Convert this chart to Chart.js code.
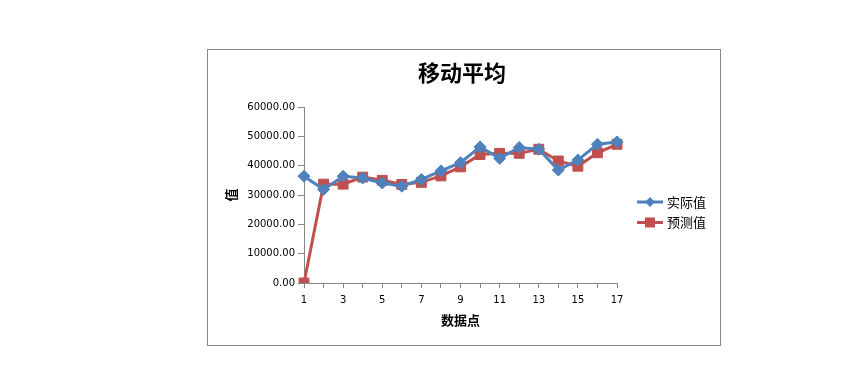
<!DOCTYPE html>
<html>
<head>
<meta charset="utf-8">
<script src="https://cdn.jsdelivr.net/npm/chart.js@4.4.1/dist/chart.umd.min.js"></script>
<style>
  body { margin: 0; background: #fff; }
  #box {
    position: absolute; left: 207px; top: 49px;
    width: 512px; height: 295px;
    border: 1px solid #868686;
  }
</style>
</head>
<body>
<div id="box"><canvas id="chart" width="512" height="295"></canvas></div>
<script>
var chartTitle = '移动平均';
var points = ['1', '2', '3', '4', '5', '6', '7', '8', '9', '10', '11', '12', '13', '14', '15', '16', '17'];
var actual = [36400, 31900, 36400, 35800, 34100, 33000, 35300, 38200, 41000, 46400, 42500, 46200, 45600, 38500, 41900, 47300, 48100];
var forecast = [0, 33700, 33700, 36100, 35000, 33600, 34300, 36500, 39600, 43800, 44200, 44200, 45600, 41600, 39800, 44400, 47300];
var seriesNames = ['实际值', '预测值'];
var yTicks = [0, 10000, 20000, 30000, 40000, 50000, 60000];

var blue = '#4F81BD';
var red = '#C0504D';
var axisGray = '#868686';
var cjk = '"Noto Sans CJK SC", "DejaVu Sans", sans-serif';

// title and right-hand legend drawn by hand
var extras = {
    id: 'extras',
    afterDraw: function (chart) {
        var ctx = chart.ctx;
        ctx.save();
        ctx.fillStyle = '#000';
        ctx.font = 'bold 22px ' + cjk;
        ctx.textAlign = 'center';
        ctx.textBaseline = 'middle';
        ctx.fillText(chartTitle, 254, 23);

        var items = [
            { name: seriesNames[0], color: blue, shape: 'diamond' },
            { name: seriesNames[1], color: red, shape: 'square' }
        ];
        var x0 = chart.chartArea.right + 20;
        items.forEach(function (it, i) {
            var y = 152 + i * 20.5;
            ctx.strokeStyle = it.color;
            ctx.lineWidth = 3;
            ctx.beginPath();
            ctx.moveTo(x0, y);
            ctx.lineTo(x0 + 26, y);
            ctx.stroke();
            ctx.fillStyle = it.color;
            var cx = x0 + 13;
            ctx.beginPath();
            if (it.shape === 'diamond') {
                ctx.moveTo(cx - 5, y);
                ctx.lineTo(cx, y - 5);
                ctx.lineTo(cx + 5, y);
                ctx.lineTo(cx, y + 5);
                ctx.closePath();
            } else {
                ctx.rect(cx - 5, y - 5, 10, 10);
            }
            ctx.fill();
            ctx.fillStyle = '#000';
            ctx.font = '13px ' + cjk;
            ctx.textAlign = 'left';
            ctx.textBaseline = 'middle';
            ctx.fillText(it.name, x0 + 30, y);
        });
        ctx.restore();
    }
};

new Chart(document.getElementById('chart').getContext('2d'), {
    type: 'line',
    data: {
        labels: points,
        datasets: [{
            label: seriesNames[0],
            data: actual,
            borderColor: blue,
            backgroundColor: blue,
            borderWidth: 3,
            pointStyle: 'rectRot',
            pointRadius: 6,
            pointBorderWidth: 1,
            tension: 0
        }, {
            label: seriesNames[1],
            data: forecast,
            borderColor: red,
            backgroundColor: red,
            borderWidth: 3,
            pointStyle: 'rect',
            pointRadius: 7,
            pointBorderWidth: 1,
            tension: 0
        }]
    },
    options: {
        responsive: false,
        animation: false,
        layout: {
            padding: { top: 57, right: 103, bottom: 0, left: 0 }
        },
        plugins: {
            legend: { display: false },
            title: { display: false },
            tooltip: { enabled: false }
        },
        scales: {
            x: {
                offset: false,
                grid: {
                    display: true,
                    drawOnChartArea: false,
                    color: axisGray,
                    tickLength: 5
                },
                border: { display: true, color: axisGray, width: 1 },
                ticks: {
                    autoSkip: false,
                    maxRotation: 0,
                    padding: 6,
                    color: '#000',
                    font: { family: 'DejaVu Sans', size: 10 },
                    callback: function (v, i) { return i % 2 === 0 ? points[i] : ''; }
                },
                title: {
                    display: true,
                    text: '数据点',
                    color: '#000',
                    font: { family: cjk, size: 13, weight: 'bold' },
                    padding: { top: 0, bottom: 17 }
                },
                afterFit: function (s) { s.height = 62; }
            },
            y: {
                min: 0,
                max: 60000,
                afterBuildTicks: function (s) {
                    s.ticks = yTicks.map(function (v) { return { value: v }; });
                },
                grid: {
                    display: true,
                    drawOnChartArea: false,
                    color: axisGray,
                    tickLength: 6
                },
                border: { display: true, color: axisGray, width: 1 },
                ticks: {
                    padding: 3,
                    color: '#000',
                    font: { family: 'DejaVu Sans', size: 10 },
                    callback: function (v) { return Number(v).toFixed(2); }
                },
                title: {
                    display: true,
                    text: '值',
                    color: '#000',
                    font: { family: cjk, size: 13, weight: 'bold' },
                    padding: { top: 15, bottom: 0 }
                },
                afterFit: function (s) { s.width = 96; }
            }
        }
    },
    plugins: [extras]
});
</script>
</body>
</html>
